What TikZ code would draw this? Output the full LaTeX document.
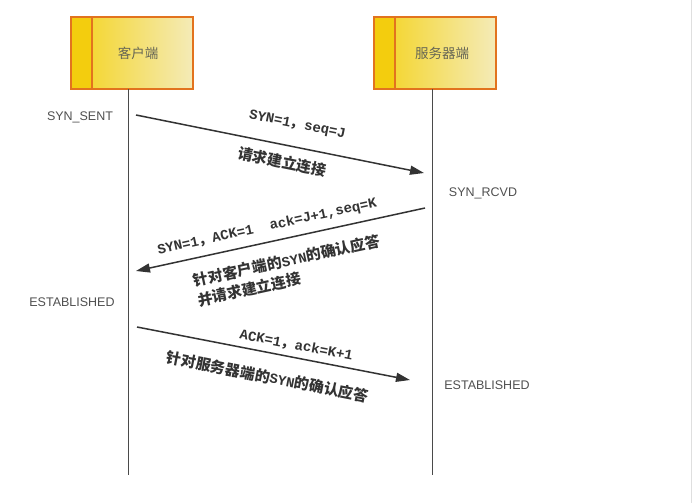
\documentclass[tikz,border=0pt]{standalone}
\usepackage{fontspec}
\setmainfont{Liberation Sans}
\newfontfamily\cjk{Noto Sans CJK SC}
\newfontfamily\mono{Liberation Mono}
\newcommand\labzh{\cjk\fontsize{15}{20}\selectfont}
\newcommand\laben{\mono\fontsize{14}{20}\selectfont}
\usetikzlibrary{arrows.meta}
\definecolor{boxedge}{HTML}{E2731E}
\definecolor{stripe}{HTML}{F3CD0E}
\definecolor{gradL}{HTML}{F4D31C}
\definecolor{gradR}{HTML}{F4EBB8}
\definecolor{ink}{HTML}{333333}
\definecolor{lifec}{HTML}{4A4A4A}
\definecolor{statec}{HTML}{505050}
\definecolor{boxtxt}{HTML}{666655}
\begin{document}
\begin{tikzpicture}[x=1pt,y=-1pt,
  lifeline/.style={draw=lifec, line width=1.5pt},
  msg/.style={draw=ink, line width=1.5pt, -{Triangle[length=14pt,width=9pt]}},
  state/.style={text=statec, font=\fontsize{12.5}{14}\selectfont},
  lbl/.style={text=ink, font=\bfseries, sloped, inner sep=0pt},
  actor/.style={minimum width=122pt, minimum height=72pt, inner sep=0pt,
    left color=gradL, right color=gradR, draw=boxedge, line width=1.3pt,
    path picture={
      \fill[stripe] (path picture bounding box.north west) rectangle ([xshift=21pt]path picture bounding box.south west);
      \draw[boxedge, line width=2.6pt] ([xshift=21pt]path picture bounding box.north west) -- ([xshift=21pt]path picture bounding box.south west);
    }},
  boxtext/.style={text=boxtxt, font=\cjk\fontsize{13.5}{15}\selectfont},
]
\useasboundingbox (0,0) rectangle (692,503);
\fill[white] (0,0) rectangle (692,503);
\draw[gray!25, line width=1pt] (691.5,0) -- (691.5,503);

% actors
\node[actor] (clientbox) at (132,53) {};
\node[boxtext] (client) at (138,53) {客户端};
\node[actor] (serverbox) at (435,53) {};
\node[boxtext] (server) at (442,53) {服务器端};

% lifelines
\coordinate (cltop) at (128.5,89);
\coordinate (clbot) at (128.5,475);
\coordinate (svtop) at (432.7,89);
\coordinate (svbot) at (432.7,475);
\draw[lifeline] (cltop) -- (clbot);
\draw[lifeline] (svtop) -- (svbot);

% states
\node[state] (s1) at (80,117) {SYN\_SENT};
\node[state] (s2) at (483,193) {SYN\_RCVD};
\node[state] (s3) at (72,302) {ESTABLISHED};
\node[state] (s4) at (487,385) {ESTABLISHED};

% message 1
\coordinate (a1s) at (136,115);
\coordinate (a1e) at (424,173);
\draw[msg] (a1s) --
  node[lbl, pos=0.545, above=22pt, anchor=center] (m1a) {\laben SYN=1{\cjk ，}seq=J}
  node[lbl, pos=0.52, below=17pt, anchor=center] (m1b) {\labzh 请求建立连接}
  (a1e);

% message 2
\coordinate (a2s) at (425,208);
\coordinate (a2e) at (136,271);
\draw[msg] (a2s) --
  node[lbl, pos=0.535, above=15pt, anchor=center] (m2a) {\laben SYN=1{\cjk ，}ACK=1\ \ ack=J+1,seq=K}
  node[lbl, pos=0.495, below=32pt, anchor=center, align=left, font=\bfseries\labzh] (m2b) {针对客户端的{\laben SYN}的确认应答\\并请求建立连接}
  (a2e);

% message 3
\coordinate (a3s) at (137,327);
\coordinate (a3e) at (410,380);
\draw[msg] (a3s) --
  node[lbl, pos=0.575, above=12pt, anchor=center] (m3a) {\laben ACK=1{\cjk ，}ack=K+1}
  node[lbl, pos=0.495, below=24pt, anchor=center] (m3b) {\labzh 针对服务器端的{\laben SYN}的确认应答}
  (a3e);
\end{tikzpicture}
\end{document}
